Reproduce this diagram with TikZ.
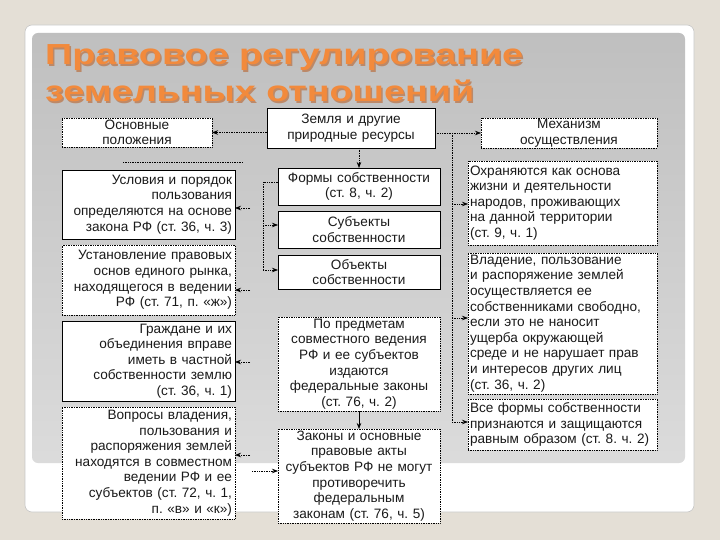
\documentclass[tikz,border=0pt]{standalone}
\usepackage{fontspec}
\setmainfont{Liberation Sans}
\usetikzlibrary{arrows.meta}
\definecolor{bgc}{HTML}{E4DFD6}
\definecolor{titleor}{HTML}{F28A3C}
\definecolor{titlesh}{HTML}{B85A1E}
\definecolor{txt}{HTML}{1A1A1A}
\frenchspacing
\tikzset{
  bx/.style={draw=black, line width=0.7pt, fill=white, inner xsep=3pt, inner ysep=1pt,
    outer sep=0pt, anchor=north west, text=txt, font=\fontsize{13.6}{15.6}\selectfont},
  dbx/.style={bx, densely dotted},
  lcol/.style={minimum width=173pt, text width=167pt, align=right},
  mcol/.style={minimum width=162pt, text width=156pt, align=center},
  rcol/.style={minimum width=189pt, text width=185pt, inner xsep=2pt, align=left},
  con/.style={densely dotted, line width=0.7pt},
  arr/.style={con, -{Stealth[length=6pt,width=4.5pt]}},
  sarr/.style={line width=0.7pt, -{Stealth[length=6pt,width=4.5pt]}},
  ttl/.style={anchor=base west, inner sep=0pt, font=\fontsize{29}{34}\bfseries}
}
\begin{document}
\begin{tikzpicture}[x=1pt,y=-1pt]
\useasboundingbox (0,0) rectangle (720,540);
\fill[bgc] (0,0) rectangle (720,540);
\draw[fill=white, draw=black!22, line width=0.6pt, rounded corners=7pt] (25,25) rectangle (694,512);
\shade[top color=black!25, bottom color=black!14, rounded corners=6pt] (32,33) rectangle (685,463);

% title
\node[ttl, text=titlesh, opacity=0.55] (t1s) at (46.5,66.5) {\scalebox{1.3}[1]{Правовое регулирование}};
\node[ttl, text=titlesh, opacity=0.55] (t2s) at (46.5,103.5) {\scalebox{1.3}[1]{земельных отношений}};
\node[ttl, text=titleor] (t1) at (45,65) {\scalebox{1.3}[1]{Правовое регулирование}};
\node[ttl, text=titleor] (t2) at (45,102) {\scalebox{1.3}[1]{земельных отношений}};

% top row
\node[dbx, minimum width=150pt, text width=144pt, align=center, minimum height=29pt] (osn) at (62,118) {Основные\\положения};
\node[bx, minimum width=168pt, text width=162pt, align=center, minimum height=40pt] (zem) at (267,108) {Земля и другие\\природные ресурсы};
\node[dbx, minimum width=176pt, text width=170pt, align=center, minimum height=30pt] (mech) at (481,118) {Механизм\\осуществления};

% middle column
\node[bx, mcol, minimum height=37pt] (formy) at (278,168) {Формы собственности\\(ст. 8, ч. 2)};
\node[bx, mcol, minimum height=37pt] (subj) at (278,211) {Субъекты\\собственности};
\node[bx, mcol, minimum height=34pt] (obj) at (278,255) {Объекты\\собственности};
\node[dbx, mcol, minimum height=94pt] (pred) at (278,317) {По предметам\\совместного ведения\\РФ и ее субъектов\\издаются\\федеральные законы\\(ст. 76, ч. 2)};
\node[dbx, mcol, minimum height=94pt] (zak) at (278,429) {Законы и основные\\правовые акты\\субъектов РФ не могут\\противоречить\\федеральным\\законам (ст. 76, ч. 5)};

% left column
\node[bx, lcol, minimum height=69pt] (usl) at (62,170) {Условия и порядок\\пользования\\определяются на основе\\закона РФ (ст. 36, ч. 3)};
\node[dbx, lcol, minimum height=70pt] (ust) at (62,245) {Установление правовых\\основ единого рынка,\\находящегося в ведении\\РФ (ст. 71, п. «ж»)};
\node[bx, lcol, minimum height=80pt] (grazh) at (62,321) {Граждане и их\\объединения вправе\\иметь в частной\\собственности землю\\(ст. 36, ч. 1)};
\node[dbx, lcol, minimum height=112pt] (vopr) at (62,407) {Вопросы владения,\\пользования и\\распоряжения землей\\находятся в совместном\\ведении РФ и ее\\субъектов (ст. 72, ч. 1,\\п. «в» и «к»)};

% right column
\node[dbx, rcol, minimum height=84pt] (ohr) at (468,161) {Охраняются как основа\\жизни и деятельности\\народов, проживающих\\на данной территории\\(ст. 9, ч. 1)};
\node[dbx, rcol, minimum height=141pt] (vlad) at (468,253) {Владение, пользование\\и распоряжение землей\\осуществляется ее\\собственниками свободно,\\если это не наносит\\ущерба окружающей\\среде и не нарушает прав\\и интересов других лиц\\(ст. 36, ч. 2)};
\node[dbx, rcol, minimum height=51pt] (vse) at (468,399) {Все формы собственности\\признаются и защищаются\\равным образом (ст. 8. ч. 2)};

% connectors: top
\draw[arr] (zem.west |- osn.east) -- (osn.east);
\coordinate (rtop) at (452,133);
\coordinate (rbot) at (452,422);
\draw[arr] (zem.east |- rtop) -- (rtop -| mech.west);
\draw[con] (rtop) -- (rbot);
\coordinate (r1) at (452,204);
\coordinate (r2) at (452,318);
\draw[arr] (r1) -- (r1 -| ohr.west);
\draw[arr] (r2) -- (r2 -| vlad.west);
\draw[arr] (rbot) -- (rbot -| vse.west);

\draw[arr] (formy.north |- zem.south) -- (formy.north);

% bracket from formy
\coordinate (bk) at (263,182);
\coordinate (bk1) at (263,225);
\coordinate (bk2) at (263,270);
\draw[con] (formy.west |- bk) -- (bk) -- (bk2);
\draw[arr] (bk1) -- (bk1 -| subj.west);
\draw[arr] (bk2) -- (bk2 -| obj.west);

% stray dotted line
\coordinate (s1) at (123,162);
\coordinate (s2) at (243,162);
\draw[con] (s1) -- (s2);

% left arrows
\coordinate (l1) at (250,208);
\coordinate (l2) at (250,290);
\coordinate (l3) at (250,362);
\coordinate (l4) at (250,455);
\draw[arr] (l1) -- (l1 -| usl.east);
\draw[arr] (l2) -- (l2 -| ust.east);
\draw[arr] (l3) -- (l3 -| grazh.east);
\draw[arr] (l4) -- (l4 -| vopr.east);
\coordinate (l5) at (252,471);
\draw[arr] (l5) -- (l5 -| zak.west);

\draw[sarr] (pred.south) -- (pred.south |- zak.north);
\end{tikzpicture}
\end{document}
